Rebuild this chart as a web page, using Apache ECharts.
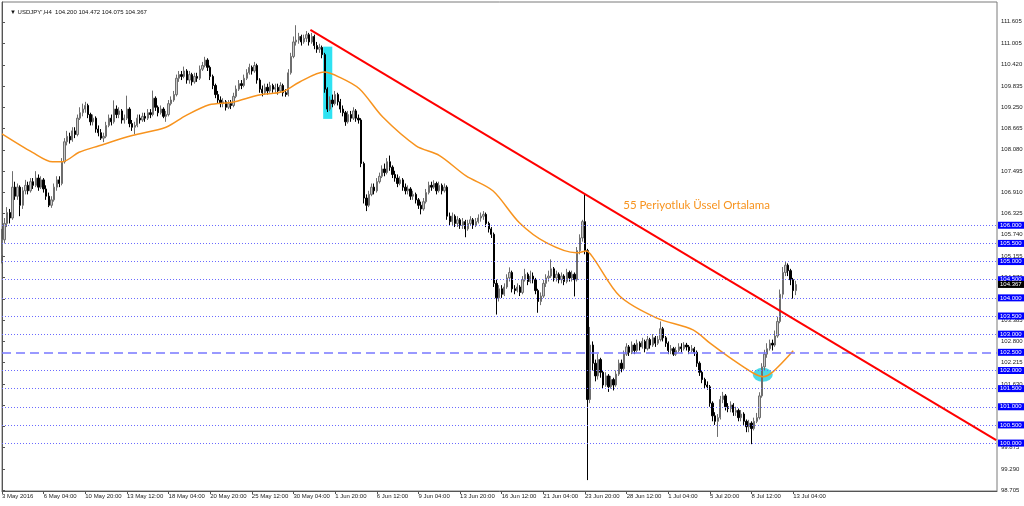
<!DOCTYPE html>
<html><head><meta charset="utf-8">
<script src="https://cdn.jsdelivr.net/npm/echarts@6/dist/echarts.min.js"></script>
<style>html,body{margin:0;padding:0;background:#fff}#c{width:1024px;height:506px}</style>
</head><body><div id="c"></div><script>
const headerText = "USDJPY',H4  104.200 104.472 104.075 104.367";
const firstOpen = 105.20;
const closes = [
105.60,106.05,106.35,106.20,107.05,106.80,107.05,106.55,106.95,107.10,
106.95,107.20,107.10,107.30,107.05,107.25,107.00,106.80,106.55,106.70,
107.05,107.25,107.15,107.75,108.30,108.45,108.35,108.60,108.50,108.95,
109.10,109.20,109.30,109.05,108.85,108.95,108.65,108.55,108.40,108.45,
108.75,108.95,108.85,109.20,109.05,109.15,108.90,108.95,109.20,108.80,
108.70,108.75,108.95,108.90,109.00,108.95,109.10,109.05,109.50,109.25,
109.10,109.20,109.00,109.05,109.35,109.45,109.60,110.05,110.15,110.10,
110.25,110.00,110.15,109.95,110.10,110.05,110.30,110.40,110.55,110.35,
110.10,109.85,109.60,109.45,109.35,109.40,109.25,109.35,109.30,109.55,
109.75,109.90,109.85,110.05,110.20,110.35,110.25,110.40,110.00,109.75,
109.65,109.80,109.70,109.85,109.75,109.80,109.70,109.85,109.65,109.60,
110.20,110.65,111.05,111.10,111.20,111.05,111.15,111.25,111.05,111.20,
110.95,110.85,110.90,110.70,109.75,109.20,109.45,109.35,109.60,109.40,
109.20,109.10,108.85,109.05,108.95,109.15,108.95,108.90,107.70,106.75,
106.55,106.85,107.05,106.95,107.20,107.35,107.55,107.45,107.75,107.60,
107.40,107.30,107.15,107.25,107.05,106.95,107.00,106.80,106.85,106.70,
106.55,106.45,106.65,106.90,107.10,107.05,107.15,106.95,107.10,106.95,
107.05,106.25,106.10,106.25,106.05,106.15,106.00,106.10,105.90,106.05,
106.15,106.00,106.10,106.20,106.25,106.30,106.05,105.90,105.75,104.40,
104.00,104.25,104.10,104.30,104.55,104.70,104.25,104.20,104.30,104.15,
104.50,104.65,104.45,104.60,104.50,104.20,103.90,104.05,104.40,104.55,
104.60,104.80,104.55,104.65,104.50,104.60,104.45,104.70,104.55,104.65,
104.50,105.30,105.65,106.10,105.30,101.20,102.70,102.20,101.85,102.30,
101.95,101.60,101.85,101.55,101.75,101.60,101.90,102.20,102.05,102.45,
102.65,102.50,102.70,102.55,102.75,102.65,102.80,102.60,102.85,102.70,
102.90,102.75,102.85,103.15,102.90,102.75,102.55,102.60,102.45,102.55,
102.65,102.60,102.70,102.65,102.55,102.60,102.50,102.20,101.95,101.75,
101.60,101.55,101.10,100.75,100.60,100.70,101.20,101.30,101.00,100.95,
101.05,100.85,100.90,100.70,100.80,100.60,100.45,100.55,100.40,100.60,
100.70,101.30,102.10,102.45,102.60,102.75,102.70,102.95,103.35,104.10,
104.70,104.90,104.75,104.50,104.20,104.367];
const highs = [
105.90,106.20,106.50,106.45,107.49,107.20,107.15,107.10,107.05,107.25,
107.20,107.30,107.30,107.49,107.40,107.35,107.30,107.10,106.90,106.80,
107.15,107.35,107.35,107.85,108.40,108.60,108.55,108.70,108.70,109.05,
109.25,109.35,109.40,109.35,109.10,109.05,109.00,108.75,108.65,108.55,
108.85,109.05,109.05,109.44,109.30,109.25,109.20,109.05,109.57,109.25,
108.90,108.85,109.05,109.05,109.10,109.10,109.20,109.20,109.71,109.55,
109.30,109.30,109.25,109.15,109.45,109.55,109.70,110.15,110.25,110.25,
110.37,110.30,110.25,110.20,110.20,110.20,110.40,110.50,110.64,110.60,
110.40,110.15,109.90,109.70,109.55,109.50,109.45,109.45,109.45,109.65,
109.85,110.00,110.00,110.15,110.30,110.45,110.40,110.50,110.45,110.05,
109.85,109.90,109.90,109.95,109.90,109.90,109.90,109.94,109.90,109.75,
110.30,110.75,111.20,111.51,111.30,111.25,111.25,111.35,111.30,111.30,
111.25,111.05,111.00,110.95,110.75,109.80,109.55,109.60,109.70,109.65,
109.48,109.30,109.15,109.15,109.15,109.25,109.20,109.05,108.95,107.75,
106.85,106.95,107.15,107.15,107.30,107.45,107.65,107.70,107.85,107.92,
107.65,107.50,107.40,107.35,107.30,107.15,107.10,107.05,106.95,106.90,
106.75,106.65,106.75,107.00,107.20,107.20,107.24,107.20,107.20,107.15,
107.15,107.10,106.35,106.35,106.30,106.25,106.20,106.20,106.15,106.15,
106.25,106.20,106.20,106.30,106.35,106.39,106.35,106.10,105.95,105.80,
104.50,104.35,104.35,104.40,104.65,104.84,104.75,104.35,104.40,104.35,
104.60,104.80,104.70,104.75,104.70,104.55,104.25,104.15,104.50,104.65,
104.75,105.06,104.85,104.75,104.70,104.70,104.65,104.80,104.75,104.75,
104.70,105.40,105.75,106.15,106.86,105.35,103.20,102.80,102.30,102.45,
102.35,102.00,101.95,101.90,101.85,101.80,102.00,102.30,102.30,102.55,
102.75,102.70,102.80,102.75,102.85,102.80,102.90,102.85,102.95,102.90,
103.00,102.95,102.95,103.35,103.20,102.95,102.80,102.70,102.65,102.65,
102.75,102.75,102.78,102.76,102.70,102.70,102.65,102.55,102.25,102.00,
101.80,101.70,101.60,101.15,100.85,100.80,101.30,101.41,101.35,101.10,
101.15,101.10,101.00,100.95,100.91,100.85,100.65,100.64,100.60,100.70,
100.83,101.40,102.20,102.57,102.75,102.85,102.85,103.10,103.48,104.23,
104.85,105.01,104.95,104.80,104.55,104.472];
const lows = [
104.95,105.50,105.95,106.05,106.15,106.70,106.70,106.25,106.45,106.85,
106.85,106.90,107.00,107.05,106.95,107.00,106.90,106.70,106.50,106.48,
106.65,106.95,107.05,107.10,107.70,108.20,108.25,108.30,108.40,108.45,
108.90,109.00,109.10,108.95,108.75,108.75,108.55,108.45,108.35,108.29,
108.40,108.70,108.75,108.80,108.95,108.95,108.80,108.80,108.90,108.70,
108.60,108.51,108.70,108.80,108.85,108.85,108.90,108.95,109.00,109.15,
109.00,109.05,108.95,108.85,109.00,109.30,109.40,109.55,109.95,110.00,
110.05,109.90,109.90,109.85,109.90,109.95,110.00,110.25,110.35,110.25,
110.00,109.75,109.50,109.35,109.25,109.25,109.16,109.20,109.20,109.25,
109.50,109.70,109.75,109.80,110.00,110.15,110.15,110.20,109.90,109.65,
109.55,109.60,109.60,109.65,109.65,109.65,109.60,109.65,109.55,109.54,
109.55,110.15,110.60,110.95,111.00,110.95,111.00,111.05,110.95,111.00,
110.85,110.75,110.75,110.60,109.65,109.12,109.15,109.25,109.30,109.30,
109.10,109.00,108.74,108.80,108.85,108.90,108.85,108.80,107.60,106.60,
106.39,106.50,106.80,106.85,106.90,107.15,107.30,107.35,107.40,107.50,
107.30,107.20,107.05,107.10,106.95,106.85,106.85,106.70,106.70,106.60,
106.45,106.30,106.40,106.60,106.85,106.95,107.00,106.85,106.90,106.85,
106.90,106.15,106.00,106.00,105.95,105.95,105.90,105.90,105.67,105.85,
106.00,105.90,105.95,106.05,106.10,106.15,105.95,105.80,105.65,104.30,
103.54,103.90,104.00,104.05,104.25,104.45,104.15,104.10,104.15,104.05,
104.10,104.45,104.35,104.40,104.40,104.10,103.59,103.80,104.00,104.30,
104.45,104.55,104.45,104.45,104.40,104.40,104.35,104.40,104.45,104.45,
104.04,104.45,105.20,105.55,105.20,98.98,101.10,102.00,101.70,101.75,
101.80,101.50,101.55,101.41,101.50,101.45,101.55,101.85,101.95,102.00,
102.40,102.40,102.45,102.45,102.50,102.55,102.60,102.50,102.55,102.60,
102.65,102.65,102.70,102.80,102.80,102.65,102.45,102.45,102.40,102.40,
102.50,102.50,102.55,102.55,102.45,102.50,102.40,102.10,101.85,101.65,
101.50,101.47,101.00,100.60,100.50,100.17,100.65,101.10,100.90,100.85,
100.85,100.75,100.75,100.60,100.60,100.50,100.30,100.30,99.97,100.35,
100.55,100.65,101.25,102.00,102.35,102.55,102.55,102.65,102.90,103.30,
104.00,104.60,104.60,104.35,103.98,104.075];
// 55-period EMA: [bar index, price]
const emaPoints = [[0,108.52],[11.7,108.01],[19.4,107.75],[23.2,107.75],[29.6,108.01],[37.3,108.19],[50,108.47],[63,108.70],[70.6,109.02],[79.6,109.32],[88.5,109.39],[98.8,109.59],[107.8,109.68],[114.2,109.94],[123.8,110.22],[129.6,110.08],[137.3,109.76],[146.3,108.98],[159.1,108.19],[168.1,107.92],[178.3,107.36],[188.6,106.95],[198.8,106.07],[209.1,105.52],[220.7,105.24],[224.5,105.29],[227.1,105.11],[237.3,104.05],[251.4,103.45],[265.5,103.12],[271.9,102.76],[280.9,102.29],[288.6,101.93],[292.4,101.83],[296.3,101.97],[304,102.54]];
const trendLine = [[118.5,111.38],[382,100.08]];
const levelsDotted = [106,105.5,105,104.5,104,103.5,103,102,101.5,101,100.5,100];
const levelDashed = 102.5;
const lastPrice = 104.367;
const xTickBars = [0,16,32,48,64,80,96,112,128,144,160,176,192,208,224,240,256,272,288,304];
const xTickLabels = ['3 May 2016','6 May 04:00','10 May 20:00','13 May 12:00','18 May 04:00','20 May 20:00','25 May 12:00','30 May 04:00','1 Jun 20:00','6 Jun 12:00','9 Jun 04:00','13 Jun 20:00','16 Jun 12:00','21 Jun 04:00','23 Jun 20:00','28 Jun 12:00','1 Jul 04:00','5 Jul 20:00','8 Jul 12:00','13 Jul 04:00'];
const yTickValues = [98.705,99.290,99.875,100.460,101.045,101.630,102.215,102.800,103.385,103.970,104.570,105.155,105.740,106.325,106.910,107.495,108.080,108.665,109.250,109.835,110.420,111.005,111.605];
const cyanBox = [[123.4,110.92],[126.9,108.93]];
const cyanOval = [292.3,101.88];
const noteText = '55 Periyotluk Üssel Ortalama';
const notePos = [238.5,106.55];

const FONT = 'Liberation Sans';
const candles = closes.map((c,i)=>{const o=i===0?firstOpen:closes[i-1];return [i,o,c,Math.min(lows[i],o,c),Math.max(highs[i],o,c)];});

const boxLabel = (txt,bg)=>({show:true,position:'end',distance:1,formatter:txt,backgroundColor:bg,color:'#fff',fontSize:6,fontFamily:FONT,padding:[1,3,0,2],lineHeight:6});
const levelLines = levelsDotted.map(v=>({yAxis:v,lineStyle:{type:[1,2],color:'#6a6aff',width:1},label:boxLabel(v.toFixed(3),'#0000ff')}));
levelLines.push({yAxis:levelDashed,lineStyle:{type:[9,5],color:'#7878ff',width:1.5},label:boxLabel(levelDashed.toFixed(3),'#0000ff')});
levelLines.push({yAxis:lastPrice,lineStyle:{color:'rgba(0,0,0,0)',width:1},label:boxLabel(lastPrice.toFixed(3),'#000000')});

const chart = echarts.init(document.getElementById('c'),null,{renderer:'canvas'});
chart.setOption({
  animation:false,
  backgroundColor:'#ffffff',
  title:{text:'\u25BC '+headerText,left:5,top:4,textStyle:{fontSize:6,fontWeight:'normal',color:'#111',fontFamily:FONT}},
  grid:{left:2,right:27,top:2,bottom:15,show:true,borderColor:'#7a7a7a',borderWidth:1,outerBoundsMode:'none'},
  xAxis:{type:'value',min:0,max:382.3,splitLine:{show:false},
    axisLine:{show:true,lineStyle:{color:'#555'}},
    axisTick:{show:true,length:3,customValues:xTickBars,lineStyle:{color:'#555'}},
    axisLabel:{customValues:xTickBars,formatter:v=>{const k=xTickBars.indexOf(v);return k>=0?xTickLabels[k]:'';},align:'left',margin:2,fontSize:6,color:'#222',fontFamily:FONT}},
  yAxis:{type:'value',position:'right',min:98.68,max:112.15,scale:true,splitLine:{show:false},
    axisLine:{show:true,lineStyle:{color:'#555'}},
    axisTick:{show:true,length:3,customValues:yTickValues,lineStyle:{color:'#555'}},
    axisLabel:{customValues:yTickValues,formatter:v=>v.toFixed(3),fontSize:6,margin:4,color:'#222',fontFamily:FONT}},
  series:[
    {type:'line',name:'levels',data:[],z:1,silent:true,
      markLine:{symbol:['none','none'],silent:true,animation:false,data:levelLines},
      markArea:{silent:true,itemStyle:{color:'#2ee2f2',opacity:1},data:[[{coord:cyanBox[0]},{coord:cyanBox[1]}]]}},
    {type:'scatter',data:[cyanOval],symbol:'circle',symbolSize:[20,14],itemStyle:{color:'#1fd0e0'},z:2,silent:true},
    {type:'candlestick',data:candles,encode:{x:0,y:[1,2,3,4]},barWidth:1.8,z:3,silent:true,
      itemStyle:{color:'#c8c8c8',borderColor:'#6e6e6e',color0:'#000000',borderColor0:'#000000',borderWidth:1}},
    {type:'line',data:emaPoints,smooth:0.3,showSymbol:false,z:4,silent:true,lineStyle:{color:'#f7931e',width:1.5},
      markPoint:{silent:true,data:[{coord:notePos,symbol:'circle',symbolSize:1,itemStyle:{color:'rgba(0,0,0,0)'},
        label:{show:true,position:'right',distance:0,formatter:noteText,color:'#f7931e',fontSize:11.5,fontFamily:'Lato'}}]}},
    {type:'line',data:trendLine,showSymbol:false,z:5,silent:true,lineStyle:{color:'#ff0000',width:2}}
  ]
});
</script></body></html>
